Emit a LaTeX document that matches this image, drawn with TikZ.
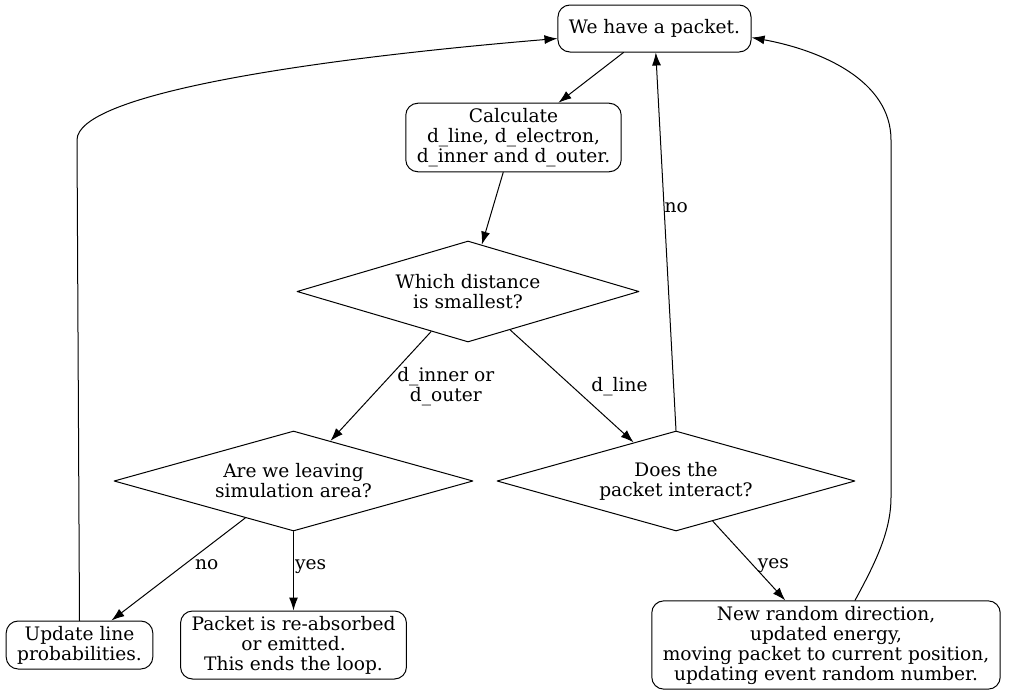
\documentclass[tikz,border=0pt]{standalone}
\usepackage{fontspec}
\setmainfont{DejaVu Serif}
\usetikzlibrary{shapes.geometric,arrows.meta}
\begin{document}
\begin{tikzpicture}[line cap=round,line join=round,>={Latex[length=13pt,width=9pt]},x=1pt,y=-1pt,
  every node/.style={font=\fontsize{18.6}{20}\selectfont},
  box/.style={draw,line width=1pt,rounded corners=12pt,align=center,inner xsep=11pt,inner ysep=5pt,minimum height=47pt},
  test/.style={draw,line width=1pt,diamond,aspect=3.4,align=center,inner sep=0pt},
  edge/.style={->,line width=1pt},
  lbl/.style={inner sep=2pt,align=center}]
\useasboundingbox (0,0) rectangle (1009,696);
\node[box] (pkt) at (654.5,28.5) {We have a packet.};
\node[box] (calc) at (513.5,137.5) {Calculate\\d\_line, d\_electron,\\d\_inner and d\_outer.};
\node[test,minimum width=342pt,minimum height=101pt] (dist) at (468,291.5) {Which distance\\is smallest?};
\node[test,minimum width=359pt,minimum height=100pt] (leave) at (293.5,481) {Are we leaving\\simulation area?};
\node[test,minimum width=358pt,minimum height=100pt] (inter) at (676,481) {Does the\\packet interact?};
\node[box] (upd) at (79.5,645) {Update line\\probabilities.};
\node[box] (absorb) at (293.5,645) {Packet is re-absorbed\\or emitted.\\This ends the loop.};
\node[box] (move) at (826,645) {New random direction,\\updated energy,\\moving packet to current position,\\updating event random number.};
% straight edges
\draw[edge] (pkt) -- (calc);
\draw[edge] (calc) -- (dist);
\draw[edge] (dist) -- node[lbl,pos=0.5,right=14pt] {d\_inner or\\ d\_outer} (leave);
\draw[edge] (dist) -- node[lbl,pos=0.5,right=17pt] {d\_line} (inter);
\draw[edge] (leave) -- node[lbl,pos=0.46,right=9pt] {no} (upd);
\draw[edge] (leave) -- node[lbl,pos=0.45,right=-1pt] {yes} (absorb);
\draw[edge] (inter) -- node[lbl,pos=0.56,right=2pt] {yes} (move);
\draw[edge] (inter.north) -- node[lbl,pos=0.59,right=-2pt] {no} (pkt);
% loops back to the top
\draw[edge] (upd.north) -- (77,140) .. controls (77,95) and (300,60) .. ([yshift=-10pt]pkt.west);
\draw[edge] ([xshift=29pt]move.north) .. controls (877,560) and (891,530) .. (891,497) -- (891,140) .. controls (891,80) and (820,50) .. ([yshift=-9pt]pkt.east);
\end{tikzpicture}
\end{document}
